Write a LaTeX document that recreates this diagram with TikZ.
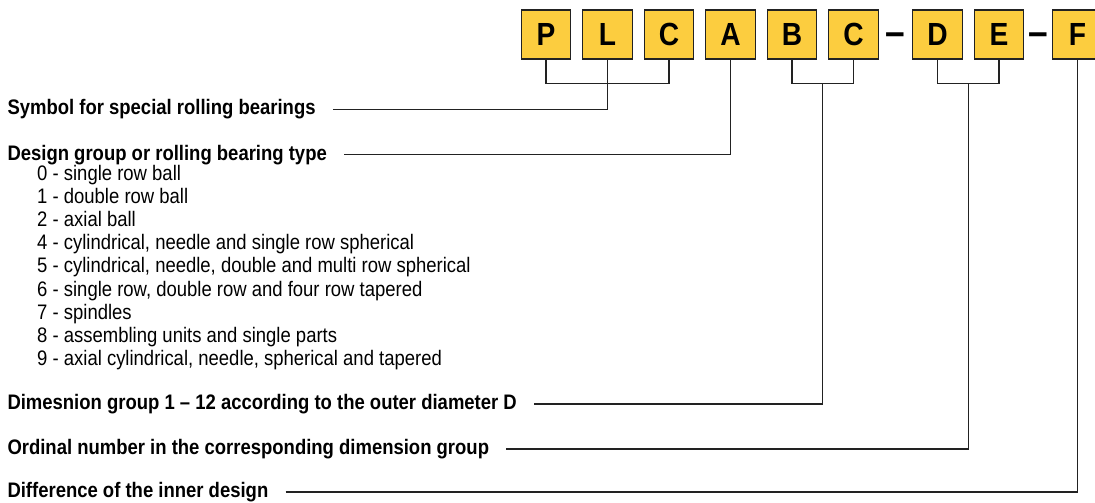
\documentclass[tikz,border=0pt]{standalone}
\usepackage{fontspec}
\setmainfont[FakeStretch=0.88]{Liberation Sans}
\usepackage{tikz}
\definecolor{boxyellow}{HTML}{FCCD3F}
\definecolor{linegray}{HTML}{222222}

\begin{document}
\begin{tikzpicture}[x=1pt,y=-1pt,
    letter/.style={draw=linegray,line width=1.3pt,fill=boxyellow,minimum width=49.5pt,minimum height=49pt,inner sep=0pt,font=\fontsize{32}{32}\selectfont\bfseries},
    dashsign/.style={anchor=base,inner sep=0pt,font=\fontsize{40}{40}\selectfont\bfseries},
    label/.style={anchor=west,inner sep=0pt,text height=15pt,text depth=4pt,font=\fontsize{21}{23}\selectfont\bfseries},
    item/.style={anchor=base west,inner sep=0pt,font=\fontsize{21}{23}\selectfont},
    conn/.style={draw=linegray,line width=1.2pt}]
    \useasboundingbox (0,0) rectangle (1095,503);

    \foreach \x/\t/\k in {546/P/p,607.5/L/l,669/C/c1,730.5/A/a,792/B/b,853.5/C/c2,937.5/D/d,999/E/e,1077.5/F/f}
        \node[letter] (\k) at (\x,34.5) {\t};
    \node[dashsign] (m1) at (895.3,45.5) {–};
    \node[dashsign] (m2) at (1038.4,45.5) {–};

    \node[label] (sym) at (7.3,109.3) {Symbol for special rolling bearings};
    \node[label] (des) at (7.3,154.5) {Design group or rolling bearing type};
    \foreach \k/\t [count=\i from 0] in {0/single row ball,1/double row ball,2/axial ball,
        4/{cylindrical, needle and single row spherical},
        5/{cylindrical, needle, double and multi row spherical},
        6/{single row, double row and four row tapered},
        7/spindles,8/assembling units and single parts,
        9/{axial cylindrical, needle, spherical and tapered}}
        \node[item] (t\k) at (37,180.5+23.1*\i) {\k\ - \t};
    \node[label] (dim) at (7.3,404) {Dimesnion group 1 – 12 according to the outer diameter D};
    \node[label] (ord) at (7.3,449) {Ordinal number in the corresponding dimension group};
    \node[label] (dif) at (7.3,492) {Difference of the inner design};

    \coordinate (plc) at (607.5,83.3);
    \coordinate (bc) at (822.75,83.3);
    \coordinate (de) at (968.25,83.3);
    \draw[conn] (p.south) |- (plc) -| (c1.south);
    \draw[conn] (b.south) |- (bc) -| (c2.south);
    \draw[conn] (d.south) |- (de) -| (e.south);

    \draw[conn,shorten <=17pt] (sym) -| (l);
    \draw[conn,shorten <=17pt] (des) -| (a);
    \draw[conn,shorten <=17pt] (dim) -| (bc);
    \draw[conn,shorten <=17pt] (ord) -| (de);
    \draw[conn,shorten <=17pt] (dif) -| (f);
\end{tikzpicture}
\end{document}
